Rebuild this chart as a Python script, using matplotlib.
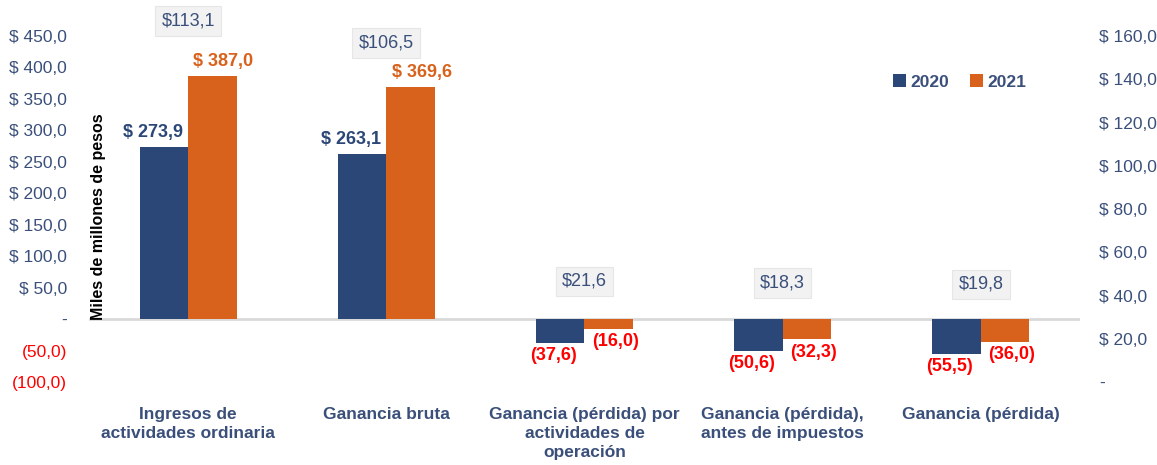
import matplotlib.pyplot as plt
import numpy as np

plt.rcParams['font.family'] = ['Liberation Sans', 'DejaVu Sans']

categorias = ["Ingresos de\nactividades ordinaria", "Ganancia bruta",
              "Ganancia (pérdida) por\nactividades de\noperación",
              "Ganancia (pérdida),\nantes de impuestos", "Ganancia (pérdida)"]
valores_2020 = [273.9, 263.1, -37.6, -50.6, -55.5]
valores_2021 = [387.0, 369.6, -16.0, -32.3, -36.0]
variacion = [113.1, 106.5, 21.6, 18.3, 19.8]

# altura (eje izquierdo) donde van las cajas grises de variacion
altura_caja = [474, 439, 60, 57, 55]

AZUL = '#2B4777'
NARANJA = '#D8611C'
TEXTO = '#3A4F7A'
ROJO = '#FF0000'


def fmt(v):
    return f"{abs(v):.1f}".replace('.', ',')


fig = plt.figure(figsize=(11.57, 4.65), dpi=100)
ax = fig.add_axes([0.0769, 0.1785, 0.8565, 0.744])

x = np.arange(len(categorias))
ancho = 0.245
b1 = ax.bar(x - ancho / 2, valores_2020, ancho, color=AZUL, label='2020', zorder=3)
b2 = ax.bar(x + ancho / 2, valores_2021, ancho, color=NARANJA, label='2021', zorder=3)

ax.set_xlim(-0.5, len(categorias) - 0.5)
ax.set_ylim(-100, 450)
ax.set_yticks(np.arange(-100, 451, 50))
etiquetas = []
for v in np.arange(-100, 451, 50):
    if v > 0:
        etiquetas.append("$ " + fmt(v))
    elif v == 0:
        etiquetas.append("-")
    else:
        etiquetas.append("(" + fmt(v) + ")")
ax.set_yticklabels(etiquetas)
for lab, v in zip(ax.get_yticklabels(), np.arange(-100, 451, 50)):
    lab.set_color(ROJO if v < 0 else TEXTO)

ax.tick_params(axis='y', length=0, labelsize=12.5, pad=16)
ax.set_xticks(x)
ax.set_xticklabels(categorias, fontsize=12.5, fontweight='bold', color=TEXTO, linespacing=1.35)
ax.tick_params(axis='x', length=0, pad=18)
for s in ax.spines.values():
    s.set_visible(False)
ax.axhline(0, color='#D9D9D9', lw=2, zorder=2)

# eje secundario
ax2 = ax.twinx()
ax2.set_ylim(0, 160)
ax2.set_yticks(np.arange(0, 161, 20))
ax2.set_yticklabels(["-"] + ["$ " + fmt(v) for v in np.arange(20, 161, 20)])
ax2.tick_params(axis='y', length=0, labelsize=12.5, pad=14, colors=TEXTO)
for s in ax2.spines.values():
    s.set_visible(False)

# etiquetas de datos
for barras, vals, col, dx in [(b1, valores_2020, AZUL, -8), (b2, valores_2021, NARANJA, 8)]:
    for r, v in zip(barras, vals):
        cx = r.get_x() + r.get_width() / 2
        if v >= 0:
            ax.annotate("$ " + fmt(v), (cx, v), xytext=(dx, 4), textcoords='offset points',
                        ha='center', va='bottom', fontsize=13, fontweight='bold', color=col)
        else:
            ax.annotate("(" + fmt(v) + ")", (cx, v), xytext=(dx * 0.6, -3), textcoords='offset points',
                        ha='center', va='top', fontsize=13, fontweight='bold', color=ROJO)

for xi, d, h in zip(x, variacion, altura_caja):
    ax.text(xi, h, "$" + fmt(d), ha='center', va='center', fontsize=13, color=TEXTO, clip_on=False,
            bbox=dict(boxstyle='square,pad=0.35', fc='#F2F2F2', ec='#E6E6E6', lw=0.8), zorder=4)

ax.legend(loc='center', bbox_to_anchor=(0.879, 0.867), ncol=2, frameon=False,
          handlelength=0.7, handleheight=0.7, handletextpad=0.3, columnspacing=1.2,
          prop={'size': 12.5, 'weight': 'bold'}, labelcolor=TEXTO)

fig.text(98 / 1157, 1 - 217 / 465, "Miles de millones de pesos", rotation=90, ha='center', va='center',
         fontsize=11.5, fontweight='bold', color='black')

fig.savefig('out.png', dpi=100)
